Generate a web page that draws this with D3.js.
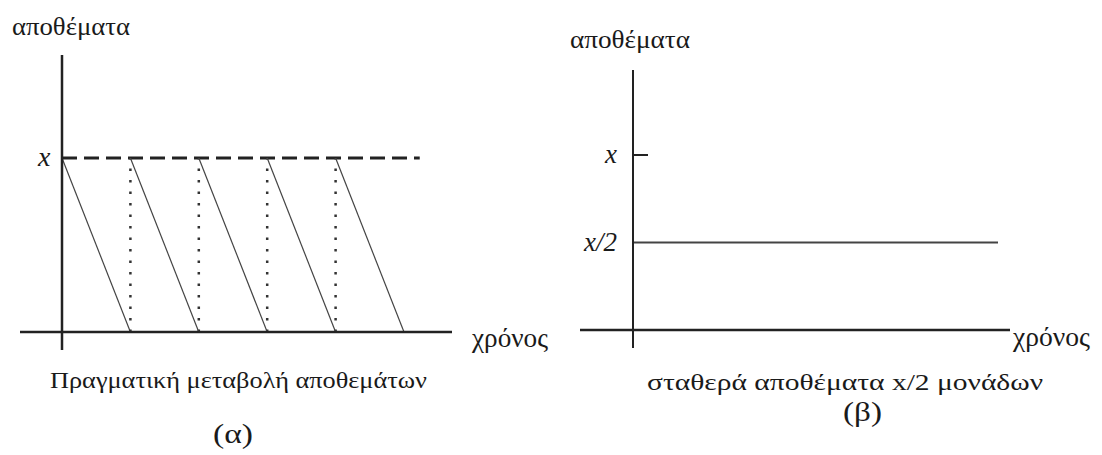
<!DOCTYPE html>
<html>
<head>
<meta charset="utf-8">
<script src="https://cdn.jsdelivr.net/npm/d3@7"></script>
</head>
<body style="margin:0; background:#fff">
<svg id="chart" width="1102" height="455"></svg>
<script>
// order cycles (left panel): each starts full at x and runs down to 0
let cycleStarts = [0, 1, 2, 3, 4];
let refills = [1, 2, 3, 4];
let fullStock = 1;
let halfStock = 0.5;
let leftTicks = [{v: 1, label: "x"}];
let rightTicks = [{v: 1, label: "x"}, {v: 0.5, label: "x/2"}];
let yLabel = "αποθέματα";
let xLabel = "χρόνος";
let captions = ["Πραγματική μεταβολή αποθεμάτων", "σταθερά αποθέματα x/2 μονάδων"];
let panelTags = ["(α)", "(β)"];

let serif = "'Liberation Serif'";
let svg = d3.select("#chart");

// left panel scales
let xL = d3.scaleLinear().domain([0, 5]).range([62, 404]);
let yL = d3.scaleLinear().domain([0, 1]).range([332, 158]);
// right panel scales
let xR = d3.scaleLinear().domain([0, 1]).range([633, 998]);
let yR = d3.scaleLinear().domain([0, 1]).range([330, 155]);

let line = d3.line();

// ---- left panel ----
let gL = svg.append("g");

// dashed max level
gL.append("line")
    .attr("x1", xL(0)).attr("x2", xL(5.23))
    .attr("y1", yL(fullStock)).attr("y2", yL(fullStock))
    .attr("stroke", "#222").attr("stroke-width", 3)
    .attr("stroke-dasharray", "15,7");

// dotted refills
gL.selectAll(".refill")
    .data(refills)
    .enter().append("line")
    .attr("class", "refill")
    .attr("x1", d => xL(d)).attr("x2", d => xL(d))
    .attr("y1", yL(0)).attr("y2", yL(fullStock))
    .attr("stroke", "#333").attr("stroke-width", 2.5)
    .attr("stroke-dasharray", "2.5,9");

// falling stock lines
gL.selectAll(".drain")
    .data(cycleStarts)
    .enter().append("path")
    .attr("class", "drain")
    .attr("d", d => line([[xL(d), yL(fullStock)], [xL(d + 1), yL(0)]]))
    .attr("stroke", "#444").attr("stroke-width", 1.2)
    .attr("fill", "none");

// axes
gL.append("line")
    .attr("x1", xL(0)).attr("x2", xL(0))
    .attr("y1", 55).attr("y2", 350)
    .attr("stroke", "#222").attr("stroke-width", 2.5);
gL.append("line")
    .attr("x1", 20).attr("x2", 452)
    .attr("y1", yL(0)).attr("y2", yL(0))
    .attr("stroke", "#222").attr("stroke-width", 2.5);

gL.selectAll(".ylab")
    .data(leftTicks)
    .enter().append("text")
    .attr("x", 38).attr("y", d => yL(d.v) + 8)
    .style("font-family", serif)
    .style("font-style", "italic")
    .style("font-size", "28px")
    .attr("fill", "#1a1a1a")
    .text(d => d.label);

// ---- right panel ----
let gR = svg.append("g");

gR.append("line")
    .attr("x1", xR(0)).attr("x2", xR(1))
    .attr("y1", yR(halfStock)).attr("y2", yR(halfStock))
    .attr("stroke", "#444").attr("stroke-width", 2);

gR.append("line")
    .attr("x1", xR(0)).attr("x2", xR(0))
    .attr("y1", 70).attr("y2", 348)
    .attr("stroke", "#222").attr("stroke-width", 2);
gR.append("line")
    .attr("x1", 580).attr("x2", 1010)
    .attr("y1", yR(0)).attr("y2", yR(0))
    .attr("stroke", "#222").attr("stroke-width", 2.5);

// tick at x
gR.append("line")
    .attr("x1", xR(0)).attr("x2", xR(0) + 15)
    .attr("y1", yR(fullStock)).attr("y2", yR(fullStock))
    .attr("stroke", "#222").attr("stroke-width", 2);

gR.selectAll(".ylab")
    .data(rightTicks)
    .enter().append("text")
    .attr("x", 617).attr("y", d => yR(d.v) + 8)
    .attr("text-anchor", "end")
    .style("font-family", serif)
    .style("font-style", "italic")
    .style("font-size", "27px")
    .attr("fill", "#1a1a1a")
    .text(d => d.label);

// ---- text ----
let labels = [
    {t: yLabel, x: 12, y: 35, w: 118, s: 25},
    {t: yLabel, x: 570, y: 48, w: 120, s: 25},
    {t: xLabel, x: 472, y: 347, w: 76, s: 27},
    {t: xLabel, x: 1013, y: 346, w: 77, s: 27},
    {t: captions[0], x: 50, y: 388, w: 377, s: 24},
    {t: captions[1], x: 647, y: 390, w: 396, s: 24},
    {t: panelTags[0], x: 213, y: 443, w: 40, s: 27},
    {t: panelTags[1], x: 843, y: 421, w: 39, s: 27}
];

svg.selectAll(".lbl")
    .data(labels)
    .enter().append("text")
    .attr("class", "lbl")
    .attr("x", d => d.x).attr("y", d => d.y)
    .style("font-family", serif)
    .style("font-size", d => d.s + "px")
    .attr("fill", "#1a1a1a")
    .attr("textLength", d => d.w)
    .attr("lengthAdjust", "spacingAndGlyphs")
    .text(d => d.t);
</script>
</body>
</html>
